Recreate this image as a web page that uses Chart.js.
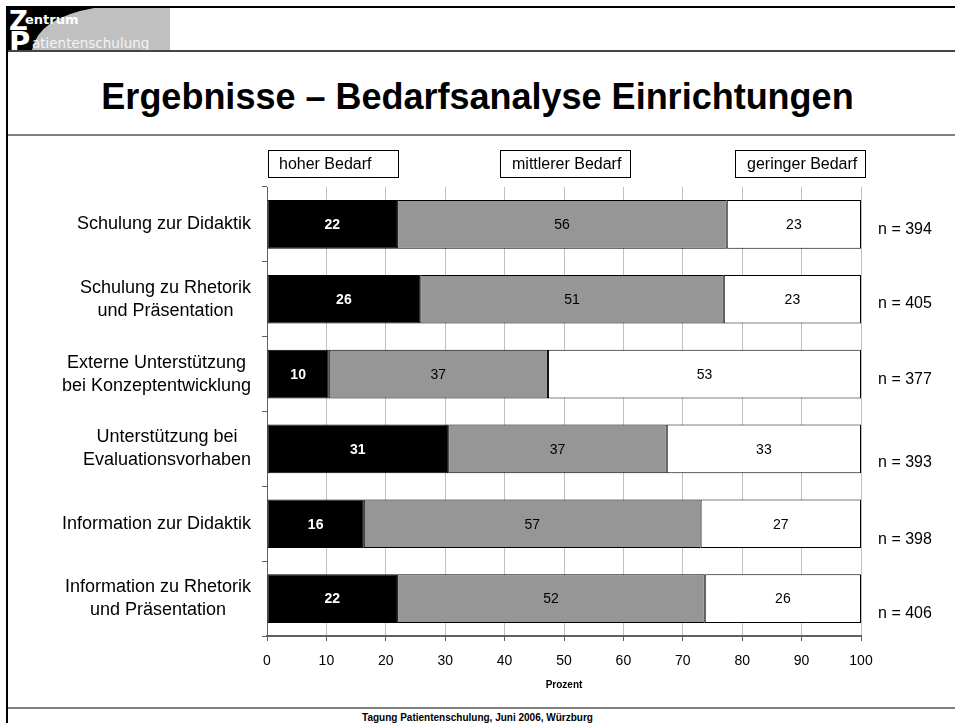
<!DOCTYPE html>
<html>
<head>
<meta charset="utf-8">
<script src="https://cdn.jsdelivr.net/npm/chart.js@4"></script>
<style>
  html, body { margin: 0; padding: 0; background: #fff; }
  body { width: 955px; height: 723px; position: relative; overflow: hidden; font-family: "Liberation Sans", Arial, sans-serif; }
  .linie { position: absolute; }
  #titel { position: absolute; left: 0; width: 955px; top: 76px; text-align: center; font-weight: bold; font-size: 36px; color: #000; white-space: nowrap; }
  #fuss { position: absolute; left: 0; width: 955px; top: 712px; text-align: center; font-weight: bold; font-size: 10px; color: #000; }
  #logo { position: absolute; left: 8px; top: 8px; }
  #wrap { position: absolute; left: 0; top: 140px; width: 955px; height: 560px; }
</style>
</head>
<body>
<!-- Rahmen der Folie -->
<div class="linie" style="left:6px;top:6px;width:949px;height:2px;background:#000"></div>
<div class="linie" style="left:6px;top:6px;width:2px;height:717px;background:#000"></div>
<div class="linie" style="left:8px;top:50px;width:947px;height:2px;background:#444"></div>
<div class="linie" style="left:8px;top:134px;width:947px;height:2px;background:#808080"></div>
<div class="linie" style="left:8px;top:707px;width:947px;height:2px;background:#808080"></div>

<svg id="logo" width="162" height="42" xmlns="http://www.w3.org/2000/svg">
  <rect x="0" y="0" width="162" height="42" fill="#000"/>
  <path d="M86 0 L162 0 L162 42 L24 42 Q30 10 86 0 Z" fill="#c0c0c0"/>
  <text x="1" y="22" font-family="DejaVu Sans" font-weight="bold" font-size="26" fill="#fff">Z</text>
  <text x="17" y="16" font-family="DejaVu Sans" font-weight="bold" font-size="13" fill="#fff">entrum</text>
  <text x="1" y="44" font-family="DejaVu Sans" font-weight="bold" font-size="29" fill="#fff">P</text>
  <text x="24" y="40" font-family="DejaVu Sans" font-size="13.5" fill="#f4f4f4">atientenschulung</text>
</svg>

<div id="titel">Ergebnisse – Bedarfsanalyse Einrichtungen</div>
<div id="wrap"><canvas id="grafik" width="955" height="560"></canvas></div>
<div id="fuss">Tagung Patientenschulung, Juni 2006, Würzburg</div>

<script>
// Daten aus der Grafik (Prozent, ungerundet geschätzt)
var kategorien = [
  ["Schulung zur Didaktik"],
  ["Schulung zu Rhetorik", "und Präsentation"],
  ["Externe Unterstützung", "bei Konzeptentwicklung"],
  ["Unterstützung bei", "Evaluationsvorhaben"],
  ["Information zur Didaktik"],
  ["Information zu Rhetorik", "und Präsentation"]
];
var hoherBedarf = [21.9, 25.8, 10.4, 30.5, 16.3, 21.9];
var mittlererBedarf = [55.5, 51.1, 36.9, 36.8, 56.7, 51.8];
var geringerBedarf = [22.6, 23.1, 52.7, 32.7, 27.0, 26.3];
var anzahl = [394, 405, 377, 393, 398, 406];
var serienNamen = ["hoher Bedarf", "mittlerer Bedarf", "geringer Bedarf"];
var xTicks = [0, 10, 20, 30, 40, 50, 60, 70, 80, 90, 100];

var schrift = "'Liberation Sans', Arial, sans-serif";

// Beschriftungen der Balken, y-Achse, n-Werte und Legende
var beschriftungPlugin = {
  id: 'beschriftung',
  afterDatasetsDraw: function (chart) {
    var ctx = chart.ctx;
    ctx.save();
    ctx.textAlign = 'center';
    ctx.textBaseline = 'middle';
    chart.data.datasets.forEach(function (ds, i) {
      var meta = chart.getDatasetMeta(i);
      meta.data.forEach(function (bar, j) {
        var p = bar.getCenterPoint();
        ctx.font = (i === 0 ? 'bold ' : '') + '14px ' + schrift;
        ctx.fillStyle = i === 0 ? '#fff' : '#000';
        ctx.fillText(Math.round(ds.data[j]), p.x, p.y + 1);
      });
    });
    ctx.restore();
  },
  afterDraw: function (chart) {
    var ctx = chart.ctx;
    var area = chart.chartArea;
    var y = chart.scales.y;
    ctx.save();
    // Kategorienamen: Block rechtsbündig, Zeilen zentriert
    ctx.font = '18px ' + schrift;
    ctx.fillStyle = '#000';
    ctx.textBaseline = 'middle';
    ctx.textAlign = 'center';
    var rechts = area.left - 16;
    var zeilenHoehe = 23;
    kategorien.forEach(function (zeilen, i) {
      var breite = 0;
      zeilen.forEach(function (z) { breite = Math.max(breite, ctx.measureText(z).width); });
      var mitte = y.getPixelForValue(i);
      var start = mitte - (zeilen.length - 1) * zeilenHoehe / 2;
      zeilen.forEach(function (z, k) {
        ctx.fillText(z, rechts - breite / 2, start + k * zeilenHoehe);
      });
    });
    // n = ...
    ctx.font = '16px ' + schrift;
    var nVersatz = [5, 4, 6, 14, 16, 15];
    anzahl.forEach(function (n, i) {
      ctx.fillText('n = ' + n, area.right + 44, y.getPixelForValue(i) + nVersatz[i]);
    });
    // Legende als Kästchen oberhalb der Fläche
    ctx.font = '16px ' + schrift;
    ctx.textAlign = 'left';
    var kasten = [area.left + 1, area.left + 233, area.left + 468];
    serienNamen.forEach(function (name, i) {
      ctx.fillStyle = '#fff';
      ctx.fillRect(kasten[i], 10, 130, 27);
      ctx.strokeStyle = '#000';
      ctx.lineWidth = 1;
      ctx.strokeRect(kasten[i] + 0.5, 10.5, 130, 27);
      ctx.fillStyle = '#000';
      ctx.fillText(name, kasten[i] + (i === 0 ? 11 : 12), 24.5);
    });
    ctx.restore();
  }
};

new Chart(document.getElementById('grafik'), {
  type: 'bar',
  data: {
    labels: kategorien,
    datasets: [
      { label: serienNamen[0], data: hoherBedarf, backgroundColor: '#000000' },
      { label: serienNamen[1], data: mittlererBedarf, backgroundColor: '#969696' },
      { label: serienNamen[2], data: geringerBedarf, backgroundColor: '#ffffff' }
    ]
  },
  options: {
    indexAxis: 'y',
    responsive: false,
    animation: false,
    events: [],
    datasets: {
      bar: { borderColor: '#000', borderWidth: 1, borderSkipped: false, barPercentage: 0.65, categoryPercentage: 1 }
    },
    layout: { padding: { left: 257, right: 94, top: 47, bottom: 9 } },
    plugins: {
      legend: { display: false },
      tooltip: { enabled: false }
    },
    scales: {
      x: {
        stacked: true,
        min: 0,
        max: 100,
        afterFit: function (s) { s.height = 55; },
        afterBuildTicks: function (s) { s.ticks = xTicks.map(function (v) { return { value: v }; }); },
        grid: { color: '#c0c0c0', tickColor: '#606060', tickLength: 5 },
        border: { color: '#606060', width: 2 },
        ticks: { color: '#000', font: { family: schrift, size: 14 }, padding: 12 },
        title: { display: true, text: 'Prozent', color: '#000', font: { family: schrift, size: 10, weight: 'bold' }, padding: 0 }
      },
      y: {
        stacked: true,
        afterFit: function (s) { s.width = 10; },
        grid: { drawOnChartArea: false, drawTicks: true, tickLength: 5, color: '#606060' },
        border: { color: '#606060', width: 1 },
        ticks: { display: false }
      }
    }
  },
  plugins: [beschriftungPlugin]
});
</script>
</body>
</html>
